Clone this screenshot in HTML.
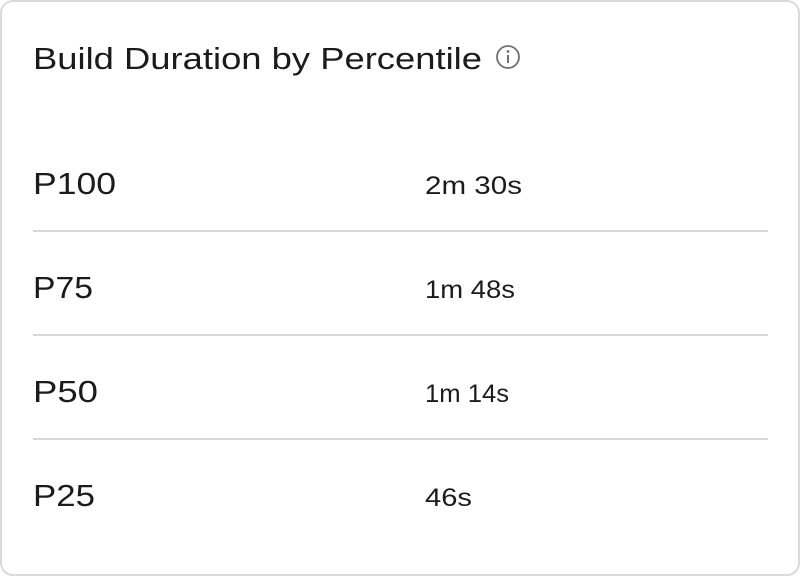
<!DOCTYPE html>
<html><head><style>
html,body{margin:0;padding:0;background:#fff;}
svg{display:block}
</style></head><body>
<svg width="800" height="576" xmlns="http://www.w3.org/2000/svg" font-family="Liberation Sans, sans-serif">
<rect x="1" y="1" width="798" height="574" rx="12" fill="#fff" stroke="#d9d9de" stroke-width="2"/>
<text x="33" y="69" font-size="31" font-weight="500" fill="#1b1b1f" textLength="449" lengthAdjust="spacingAndGlyphs">Build Duration by Percentile</text>
<circle cx="508" cy="57" r="11" fill="none" stroke="#6e6e78" stroke-width="1.8"/>
<circle cx="508" cy="51.5" r="1.4" fill="#6e6e78"/>
<line x1="508" y1="55" x2="508" y2="63" stroke="#6e6e78" stroke-width="2"/>
<g fill="#1b1b1f">
<text x="33" y="194" font-size="31" textLength="83" lengthAdjust="spacingAndGlyphs">P100</text>
<text x="425" y="194" font-size="25" textLength="97" lengthAdjust="spacingAndGlyphs">2m 30s</text>
<text x="33" y="298" font-size="31" textLength="60" lengthAdjust="spacingAndGlyphs">P75</text>
<text x="425" y="298" font-size="25" textLength="90" lengthAdjust="spacingAndGlyphs">1m 48s</text>
<text x="33" y="402" font-size="31" textLength="65" lengthAdjust="spacingAndGlyphs">P50</text>
<text x="425" y="402" font-size="25" textLength="84" lengthAdjust="spacingAndGlyphs">1m 14s</text>
<text x="33" y="506" font-size="31" textLength="62" lengthAdjust="spacingAndGlyphs">P25</text>
<text x="425" y="506" font-size="25" textLength="47" lengthAdjust="spacingAndGlyphs">46s</text>
</g>
<g stroke="#d6d6da" stroke-width="2">
<line x1="33" y1="231" x2="768" y2="231"/>
<line x1="33" y1="335" x2="768" y2="335"/>
<line x1="33" y1="439" x2="768" y2="439"/>
</g>
</svg>
</body></html>
